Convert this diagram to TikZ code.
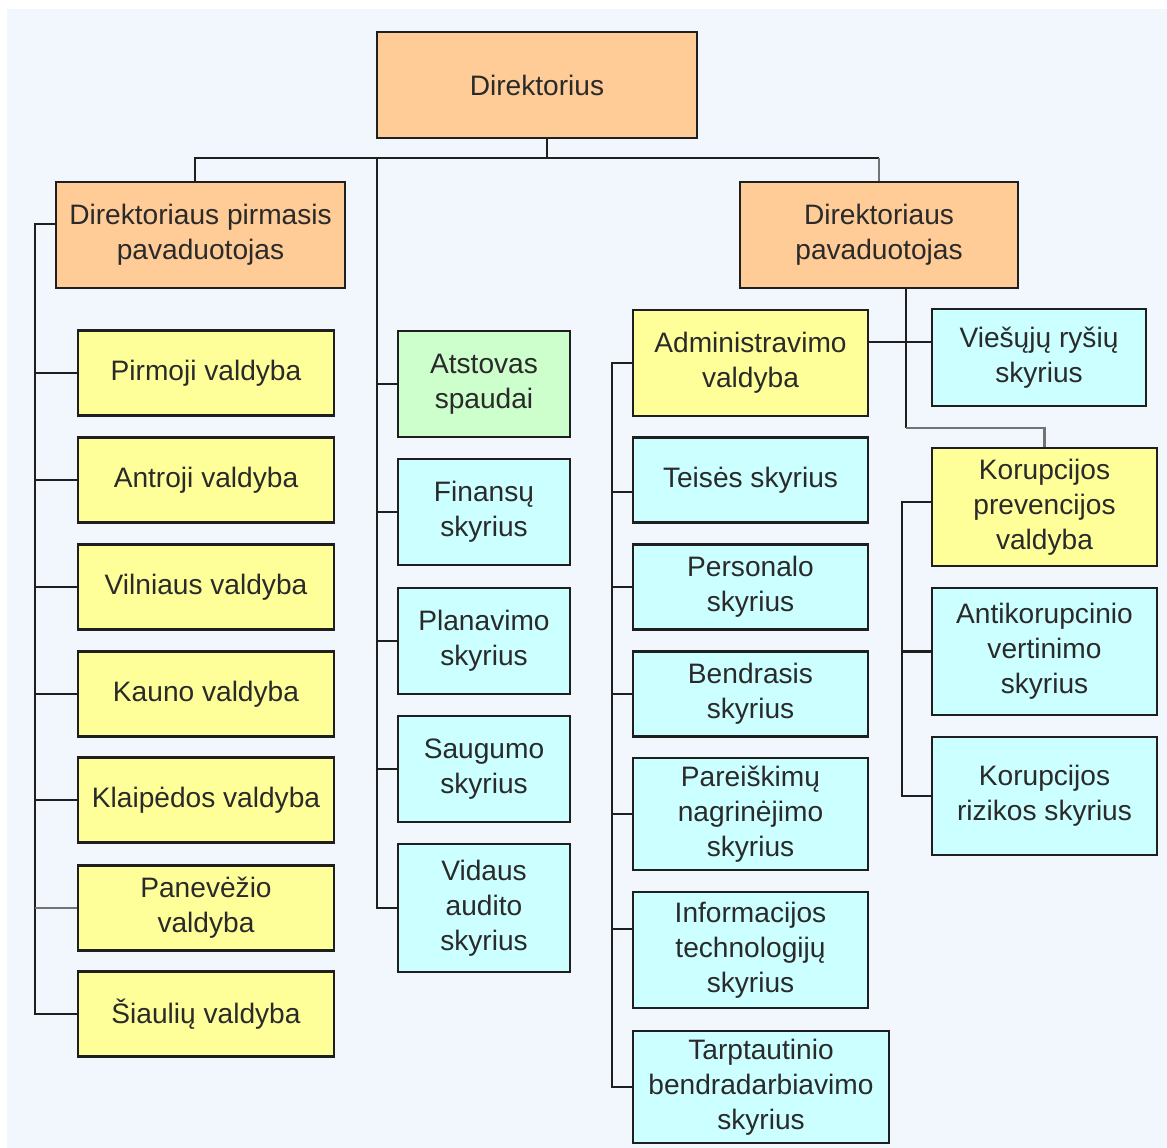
\documentclass[tikz,border=0pt]{standalone}
\usepackage{fontspec}
\setmainfont{Liberation Sans}
\usetikzlibrary{positioning, calc}
\definecolor{pagebg}{HTML}{F2F6FD}
\definecolor{boxorange}{HTML}{FFCB96}
\definecolor{boxyellow}{HTML}{FFFF99}
\definecolor{boxcyan}{HTML}{CCFFFF}
\definecolor{boxgreen}{HTML}{CCFFCC}
\definecolor{ink}{HTML}{2A2A2A}

\begin{document}
\begin{tikzpicture}[
  x=0.2mm, y=-0.2mm,
  font=\fontsize{16}{20}\selectfont,
  unit/.style={draw=black!88, line width=1.5pt, align=center, inner sep=0pt, text=ink},
  orangebox/.style={unit, fill=boxorange, minimum height=21.2mm},
  yellowbox/.style={unit, fill=boxyellow},
  cyanbox/.style={unit, fill=boxcyan},
  greenbox/.style={unit, fill=boxgreen},
  leftcol/.style={yellowbox, minimum width=51.2mm, minimum height=17mm},
  midcol/.style={minimum width=34.4mm, minimum height=21.2mm},
  rightcol/.style={minimum width=47mm, minimum height=17mm},
  farcol/.style={minimum width=45mm, minimum height=23.6mm},
  link/.style={draw=black!88, line width=1.4pt},
  greylink/.style={draw=black!55, line width=1.4pt}
]

% ------------------------------------------------------------ page
\useasboundingbox (0,0) rectangle (1167,1148);
\fill[white] (0,0) rectangle (1167,1148);
\fill[pagebg] (7,9) rectangle (1167,1148);

% ------------------------------------------------------------ top level
\node[orangebox, minimum width=64mm] (dir) at (537,85) {Direktorius};
\node[orangebox, minimum width=57.8mm] (dep1) at (200.5,235)
  {Direktoriaus pirmasis\\ pavaduotojas};
\node[orangebox, minimum width=55.6mm] (dep2) at (879,235)
  {Direktoriaus\\ pavaduotojas};

% ------------------------------------------------------------ first deputy
\node[leftcol] (pirm) at (206,373)  {Pirmoji valdyba};
\node[leftcol] (antr) at (206,480)  {Antroji valdyba};
\node[leftcol] (viln) at (206,587)  {Vilniaus valdyba};
\node[leftcol] (kaun) at (206,694)  {Kauno valdyba};
\node[leftcol] (klai) at (206,800)  {Klaipėdos valdyba};
\node[leftcol] (pane) at (206,908)  {Panevėžio\\ valdyba};
\node[leftcol] (siau) at (206,1014) {Šiaulių valdyba};

% ------------------------------------------------------------ director
\node[greenbox, midcol] (atst) at (484,384) {Atstovas\\ spaudai};
\node[cyanbox, midcol]  (fin)  at (484,512) {Finansų\\ skyrius};
\node[cyanbox, midcol]  (plan) at (484,641) {Planavimo\\ skyrius};
\node[cyanbox, midcol]  (saug) at (484,769) {Saugumo\\ skyrius};
\node[cyanbox, midcol, minimum height=25.6mm] (vid) at (484,908)
  {Vidaus\\ audito\\ skyrius};

% ------------------------------------------------------------ second deputy
\node[yellowbox, rightcol, minimum height=21.2mm] (adm) at (750.5,363)
  {Administravimo\\ valdyba};
\node[cyanbox, rightcol] (teis) at (750.5,480) {Teisės skyrius};
\node[cyanbox, rightcol] (pers) at (750.5,587) {Personalo\\ skyrius};
\node[cyanbox, rightcol] (bend) at (750.5,694) {Bendrasis\\ skyrius};
\node[cyanbox, rightcol, minimum height=22.4mm] (pare) at (750.5,814)
  {Pareiškimų\\ nagrinėjimo\\ skyrius};
\node[cyanbox, rightcol, minimum height=23.2mm] (info) at (750.5,950)
  {Informacijos\\ technologijų\\ skyrius};
\node[cyanbox, rightcol, minimum width=51.2mm, minimum height=22.4mm] (tarp) at (761,1087)
  {Tarptautinio\\ bendradarbiavimo\\ skyrius};

\node[cyanbox, minimum width=42.8mm, minimum height=19.4mm] (vies) at (1039,357.5)
  {Viešųjų ryšių\\ skyrius};
\node[yellowbox, farcol] (kprev) at (1044.5,507)
  {Korupcijos\\ prevencijos\\ valdyba};
\node[cyanbox, farcol, minimum height=25.4mm] (anti) at (1044.5,651.5)
  {Antikorupcinio\\ vertinimo\\ skyrius};
\node[cyanbox, farcol] (kriz) at (1044.5,796)
  {Korupcijos\\ rizikos skyrius};

% ------------------------------------------------------------ connectors
\coordinate (bus) at (547,158);
\coordinate (trunk) at (377,158);
\coordinate (spL) at (35,224);
\coordinate (spA) at (612,0);
\coordinate (spK) at (902,0);
\coordinate (bend2) at (906,428);
\coordinate (cross) at (906,342);

\draw[link] (dir.south -| bus) -- (bus);
\draw[link] (dep1.north -| 195,0) |- (bus) -- (dep2.north |- bus);
\draw[greylink] (dep2.north |- bus) -- (dep2.north);
\draw[link] (trunk) |- (vid.west);
\foreach \n in {atst,fin,plan,saug}
  \draw[link] (\n.west) -- (\n.west -| trunk);

\draw[link] (dep1.west |- spL) -- (spL) |- (siau.west);
\foreach \n in {pirm,antr,viln,kaun,klai}
  \draw[link] (\n.west) -- (\n.west -| spL);
\draw[greylink] (pane.west) -- (pane.west -| spL);

\draw[link] (dep2.south -| bend2) -- (bend2);
\draw[greylink] (bend2) -| (kprev.north);
\draw[link] (adm.east |- cross) -- (vies.west |- cross);

\draw[link] (adm.west) -- (adm.west -| spA) |- (tarp.west);
\draw[link] ([yshift=-2.4mm]teis.west) -- ([yshift=-2.4mm]teis.west -| spA);
\foreach \n in {pers,bend,pare}
  \draw[link] (\n.west) -- (\n.west -| spA);
\draw[link] ([yshift=4.2mm]info.west) -- ([yshift=4.2mm]info.west -| spA);

\draw[link] ([yshift=1mm]kprev.west) -- ([yshift=1mm]kprev.west -| spK) |- (kriz.west);
\draw[link] (anti.west) -- (anti.west -| spK);

\end{tikzpicture}
\end{document}
